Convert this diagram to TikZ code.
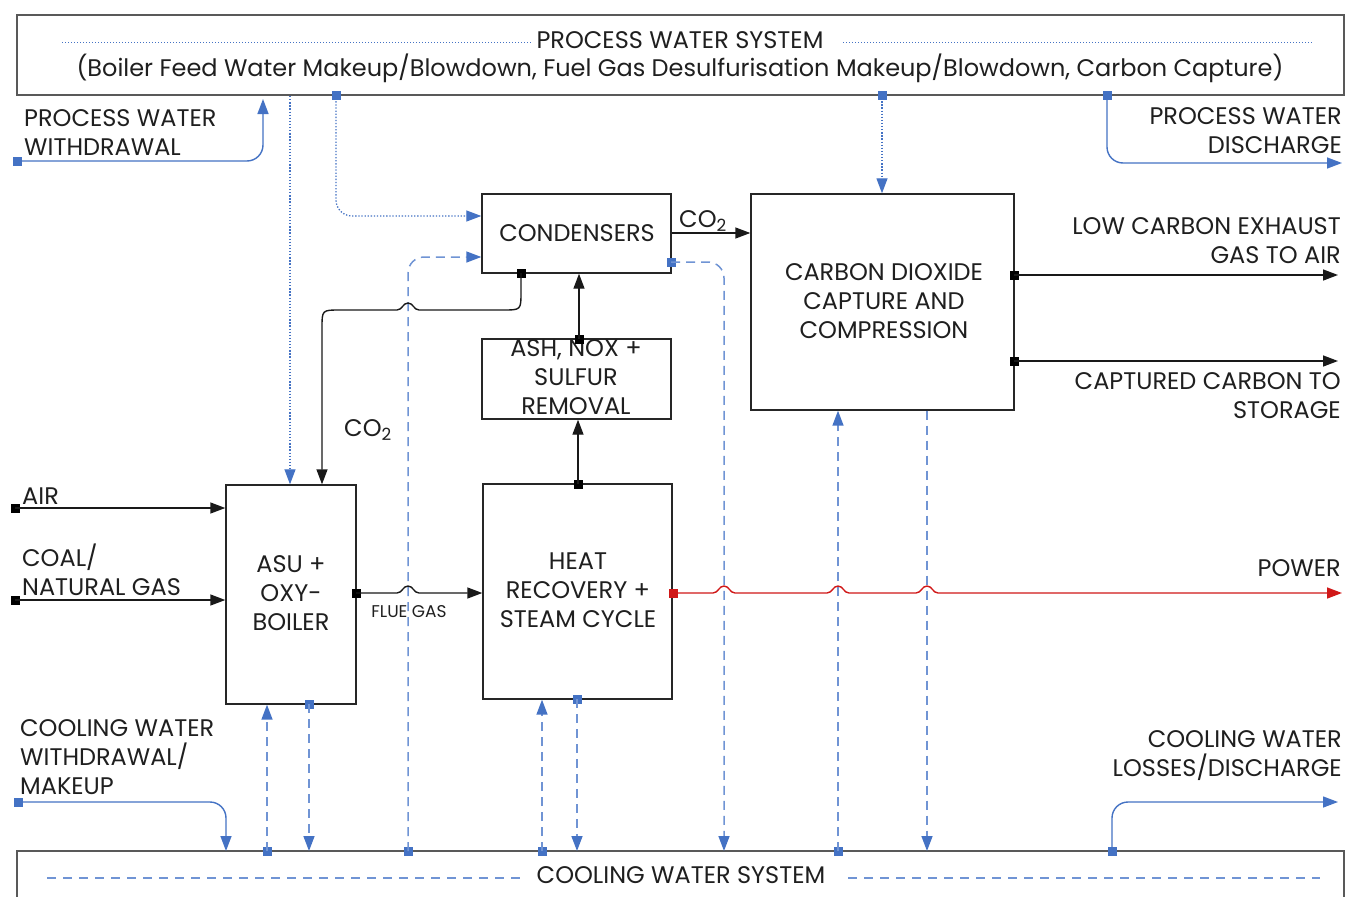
\documentclass[tikz,border=0pt]{standalone}
\usepackage{fontspec}
\setmainfont{Poppins}
\usetikzlibrary{arrows.meta}
\definecolor{wblue}{HTML}{4472C4}
\definecolor{dblue}{HTML}{7094D4}
\definecolor{sysgray}{HTML}{595959}
\definecolor{pred}{HTML}{D01818}
\begin{document}
\begin{tikzpicture}[x=1pt,y=-1pt,
  txt/.style={font=\fontsize{24}{29}\selectfont, inner sep=0pt, text=black!88},
  small/.style={font=\fontsize{17}{19}\selectfont, inner sep=0pt, text=black!88},
  unit/.style={draw=black!85, line width=1.4pt, inner sep=0pt, fill=white},
  sys/.style={draw=sysgray, line width=2pt},
  arr/.style={-{Triangle[length=15pt,width=11pt]}},
  flow/.style={black!90, line width=1.4pt, arr},
  pw/.style={wblue, line width=1.4pt, arr},
  dotw/.style={wblue, line width=1.3pt, dash pattern=on 1.3pt off 1.8pt, arr},
  dashw/.style={dblue, line width=1.5pt, dash pattern=on 9pt off 6pt, -{Triangle[length=15pt,width=11pt,color=wblue]}},
  sq/.style={fill, minimum size=9pt, inner sep=0pt, outer sep=0pt},
  bsq/.style={sq, fill=wblue},
  ksq/.style={sq, fill=black},
  rsq/.style={sq, fill=pred},
]
\useasboundingbox (0,0) rectangle (1347,897);
\fill[white] (0,0) rectangle (1347,897);

% ---------- system boxes ----------
\node[sys, minimum width=1327pt, minimum height=80pt, inner sep=0pt] (pws) at (680.5,55) {};
\node[txt] (pwst) at (680,40) {PROCESS WATER SYSTEM};
\node[txt] (pwsd) at (680,68) {(Boiler Feed Water Makeup/Blowdown, Fuel Gas Desulfurisation Makeup/Blowdown, Carbon Capture)};
\coordinate (pl1) at (62,42); \coordinate (pl2) at (532,42);
\coordinate (pr1) at (843,42); \coordinate (pr2) at (1313,42);
\draw[wblue, line width=1pt, dash pattern=on 1.2pt off 1.8pt] (pl1) -- (pl2);
\draw[wblue, line width=1pt, dash pattern=on 1.2pt off 1.8pt] (pr1) -- (pr2);

\draw[sys] (17,899) -- (17,851) -- (1344,851) -- (1344,899);
\coordinate (cws) at (680,851);
\node[txt] (cwst) at (681,875) {COOLING WATER SYSTEM};
\coordinate (cl1) at (47,878); \coordinate (cl2) at (520,878);
\coordinate (cr1) at (848,878); \coordinate (cr2) at (1320,878);
\draw[dblue, line width=1.4pt, dash pattern=on 9pt off 7pt] (cl1) -- (cl2);
\draw[dblue, line width=1.4pt, dash pattern=on 9pt off 7pt] (cr1) -- (cr2);

% ---------- unit boxes ----------
\node[unit, minimum width=189pt, minimum height=79pt] (cond) at (576.5,233.5) {};
\node[txt] (condt) at (577,233) {CONDENSERS};
\node[unit, minimum width=263pt, minimum height=216pt] (ccc) at (882.5,302) {};
\node[txt, align=center] (ccct) at (884,301) {CARBON DIOXIDE\\CAPTURE AND\\COMPRESSION};
\node[unit, minimum width=189pt, minimum height=80pt] (ash) at (576.5,379) {};
\node[txt, align=center] (asht) at (576,377) {ASH, NOX +\\SULFUR\\REMOVAL};
\node[unit, minimum width=189pt, minimum height=215pt] (hr) at (577.5,591.5) {};
\node[txt, align=center] (hrt) at (578,590) {HEAT\\RECOVERY +\\STEAM CYCLE};
\node[unit, minimum width=130pt, minimum height=219pt] (asu) at (291,594.5) {};
\node[txt, align=center] (asut) at (291,593) {ASU +\\OXY-\\BOILER};

% ---------- labels ----------
\node[txt, anchor=west, align=left] (lpww) at (24,132.5) {PROCESS WATER\\WITHDRAWAL};
\node[txt, anchor=east, align=right] (lpwd) at (1342,131) {PROCESS WATER\\DISCHARGE};
\node[txt, anchor=east, align=right] (llow) at (1341,240.5) {LOW CARBON EXHAUST\\GAS TO AIR};
\node[txt, anchor=east, align=right] (lcap) at (1341,395.5) {CAPTURED CARBON TO\\STORAGE};
\node[txt] (lco2a) at (703,221) {CO\textsubscript{2}};
\node[txt] (lco2b) at (368,430) {CO\textsubscript{2}};
\node[txt, anchor=west] (lair) at (22,496) {AIR};
\node[txt, anchor=west, align=left] (lcoal) at (22,569.5) {COAL/\\NATURAL GAS};
\node[small] (lflue) at (409,612) {FLUE GAS};
\node[txt, anchor=east] (lpow) at (1341,568) {POWER};
\node[txt, anchor=west, align=left] (lcww) at (20,757) {COOLING WATER\\WITHDRAWAL/\\MAKEUP};
\node[txt, anchor=east, align=right] (lcwl) at (1342,756) {COOLING WATER\\LOSSES/DISCHARGE};

% ---------- squares ----------
\node[bsq] (spww) at (17,161) {};
\node[bsq] (spwd) at (1107,95) {};
\node[bsq] (s336) at (336,95) {};
\node[bsq] (s882) at (882,95) {};
\node[bsq] (scww) at (18,802) {};
\node[bsq] (scwl) at (1112,851) {};
\node[bsq] (s267) at (267,851) {};
\node[bsq] (s309) at (309,704) {};
\node[bsq] (s408) at (408,851) {};
\node[bsq] (s542) at (542,851) {};
\node[bsq] (s577) at (577,699) {};
\node[bsq] (s838) at (838,851) {};
\node[bsq] (s671) at (671,262) {};
\node[ksq] (sair) at (15,508) {};
\node[ksq] (scoal) at (15,600) {};
\node[ksq] (sasuo) at (356,593) {};
\node[ksq] (scond) at (521,273) {};
\node[ksq] (sash) at (579,339) {};
\node[ksq] (shr) at (578,484) {};
\node[ksq] (slow) at (1014,275) {};
\node[ksq] (scap) at (1014,361) {};
\node[rsq] (shro) at (673,593) {};

% ---------- end coordinates ----------
\coordinate (epww) at (263,99);
\coordinate (epwd) at (1342,163);
\coordinate (ecww) at (226,851);
\coordinate (ecwl) at (1338,802);
\coordinate (elow) at (1338,275);
\coordinate (ecap) at (1338,361);
\coordinate (epow) at (1342,593);

% ---------- process water ----------
\draw[pw, rounded corners=16pt] (spww.center) -- (epww |- spww) -- (epww);
\draw[pw, rounded corners=16pt] (spwd.center) -- (spwd |- epwd) -- (epwd);
\draw[dotw] (pws.south -| 290,0) -- (asu.north -| 290,0);
\draw[dotw, rounded corners=16pt] (s336.center) -- (336,216) -- (cond.west |- 0,216);
\draw[dotw] (s882.center) -- (ccc.north -| s882);

% ---------- cooling water ----------
\draw[pw, rounded corners=16pt] (scww.center) -- (ecww |- scww) -- (ecww);
\draw[pw, rounded corners=16pt] (scwl.center) -- (scwl |- ecwl) -- (ecwl);
\draw[dashw] (s267.center) -- (asu.south -| s267);
\draw[dashw] (s309.center) -- (cws -| s309);
\draw[dashw, rounded corners=16pt] (s408.center) -- (408,257) -- (cond.west |- 0,257);
\draw[dashw, rounded corners=16pt] (s671.center) -- (724,262) -- (cws -| 724,0);
\draw[dashw] (s542.center) -- (hr.south -| s542);
\draw[dashw] (s577.center) -- (cws -| s577);
\draw[dashw] (s838.center) -- (ccc.south -| s838);
\draw[dashw] (ccc.south -| 927,0) -- (cws -| 927,0);

% ---------- process flows ----------
\draw[flow] (sair.center) -- (asu.west |- sair);
\draw[flow] (scoal.center) -- (asu.west |- scoal);
\draw[flow] (sash.center) -- (cond.south -| sash);
\draw[flow] (shr.center) -- (ash.south -| shr);
\draw[flow] (cond.east |- 0,233) -- (ccc.west |- 0,233);
\draw[flow] (slow.center) -- (elow);
\draw[flow] (scap.center) -- (ecap);
% flue gas with hop at x=408
\draw[flow] (sasuo.center) -- (397,593) .. controls (402,593) and (403,586) .. (408,586)
  .. controls (413,586) and (414,593) .. (419,593) -- (hr.west |- sasuo);
% CO2 recycle from condensers to ASU with hop at x=408
\draw[flow] (scond.center) -- (521,292) .. controls (521,310) .. (503,310) -- (419,310)
  .. controls (414,310) and (413,303) .. (408,303) .. controls (403,303) and (402,310) .. (397,310)
  -- (340,310) .. controls (322,310) .. (322,328) -- (asu.north -| 322,0);
% power with hops
\draw[pred, line width=1.4pt, arr] (shro.center)
  -- (713,593) .. controls (718,593) and (719,586) .. (724,586) .. controls (729,586) and (730,593) .. (735,593)
  -- (827,593) .. controls (832,593) and (833,586) .. (838,586) .. controls (843,586) and (844,593) .. (849,593)
  -- (916,593) .. controls (921,593) and (922,586) .. (927,586) .. controls (932,586) and (933,593) .. (938,593)
  -- (epow);
\end{tikzpicture}
\end{document}
